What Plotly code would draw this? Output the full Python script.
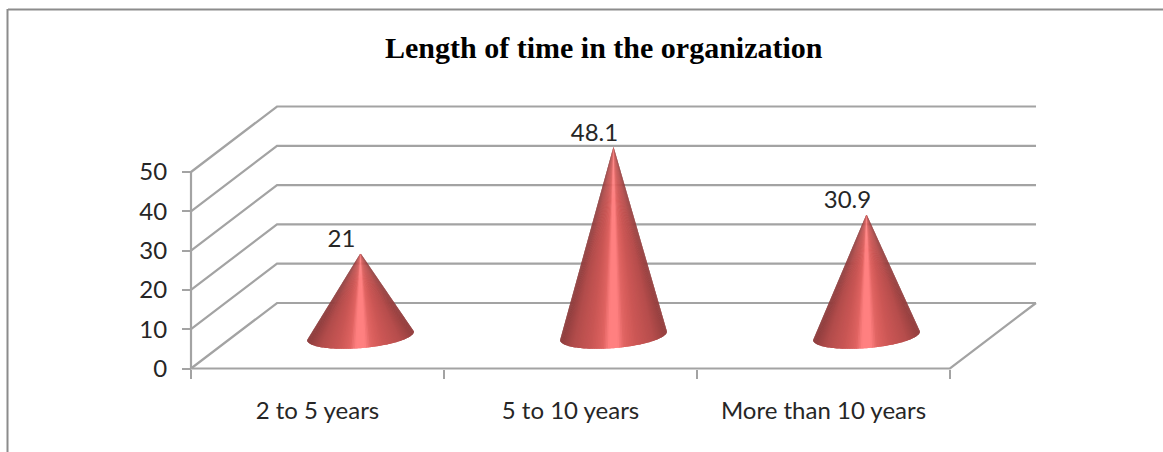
import numpy as np
import plotly.graph_objects as go

# Chart content
title = "Length of time in the organization"
categories = ["2 to 5 years", "5 to 10 years", "More than 10 years"]
values = [21, 48.1, 30.9]
value_labels = ["21", "48.1", "30.9"]
y_ticks = [0, 10, 20, 30, 40, 50]

# Figure and plot geometry (pixels)
W, H = 1163, 452
X0_PX, Y0_PX = 191.0, 368.5
CAT_PX, VAL_PX = 253.0, 3.93
DEPTH_X_PX, DEPTH_Y_PX = 86.0, 65.5

# Oblique depth expressed in axis units
DX = DEPTH_X_PX / CAT_PX
DY = DEPTH_Y_PX / VAL_PX
CONE_R = 0.2
GRID = "#a3a3a3"
TEXT = "#262626"
FONT = "Lato"


def project(cat, val, depth):
    """Oblique projection of (category, value, depth) onto the x/y axes."""
    return cat + depth * DX, val + depth * DY


# Colour stops across the visible cone surface, left edge to right edge
SHADE_U = [-1.0, -0.75, -0.4, -0.2, -0.08, 0.08, 0.2, 0.4, 0.75, 1.0]
SHADE_RGB = [
    (140, 60, 60), (178, 76, 75), (203, 87, 85), (222, 98, 96), (255, 128, 128),
    (255, 128, 128), (224, 100, 98), (206, 88, 86), (182, 77, 76), (146, 62, 62),
]


def shade(u):
    r, g, b = (np.interp(u, SHADE_U, [c[k] for c in SHADE_RGB]) for k in range(3))
    return f"rgb({r:.0f},{g:.0f},{b:.0f})"


def line_trace(xs, ys):
    return go.Scatter(x=xs, y=ys, mode="lines", hoverinfo="skip",
                      line=dict(color=GRID, width=2.2), showlegend=False)


fig = go.Figure()

# Side wall and back wall gridlines
for v in y_ticks:
    a = project(0, v, 0)
    b = project(0, v, 1)
    c = project(3, v, 1)
    fig.add_trace(line_trace([a[0], b[0], c[0]], [a[1], b[1], c[1]]))

# Front floor edge, right floor edge and the value axis line
a, b, c = project(0, 0, 0), project(3, 0, 0), project(3, 0, 1)
fig.add_trace(line_trace([a[0], b[0], c[0]], [a[1], b[1], c[1]]))
top = project(0, max(y_ticks), 0)
fig.add_trace(line_trace([a[0], top[0]], [a[1], top[1]]))

# Cones: overlapping facets fan out from the apex to the front of the base,
# each one painted over the previous so no seams show through
SILHOUETTE = np.arctan2(CONE_R * DEPTH_X_PX, CONE_R * CAT_PX)
thetas = np.linspace(np.pi + SILHOUETTE, 2 * np.pi + SILHOUETTE, 91)
for i, v in enumerate(values):
    cx = i + 0.5
    apex = project(cx, v, 0.5)
    bx, by = project(cx + CONE_R * np.cos(thetas), 0, 0.5 + CONE_R * np.sin(thetas))
    center_x = project(cx, 0, 0.5)[0]
    half = np.max(np.abs(bx - center_x))
    for k in range(len(thetas) - 1):
        end = min(k + 3, len(thetas))
        u = (bx[k] + bx[k + 1]) / 2 - center_x
        col = shade(u / half)
        fig.add_trace(go.Scatter(
            x=[apex[0], *bx[k:end], apex[0]],
            y=[apex[1], *by[k:end], apex[1]],
            mode="none", fill="toself", fillcolor=col,
            hoverinfo="skip", showlegend=False,
        ))

# Value labels sit just above and to the left of each apex
LABEL_DX = -19 / CAT_PX
LABEL_DY = 12 / VAL_PX
label_pos = [project(i + 0.5, v, 0.5) for i, v in enumerate(values)]
fig.add_trace(go.Scatter(
    x=[p[0] + LABEL_DX for p in label_pos],
    y=[p[1] + LABEL_DY for p in label_pos],
    mode="text", text=value_labels, textposition="middle center",
    textfont=dict(family=FONT, size=24, color=TEXT),
    hoverinfo="skip", showlegend=False,
))

axis_x_range = [-X0_PX / CAT_PX, (W - X0_PX) / CAT_PX]
axis_y_range = [(Y0_PX - H) / VAL_PX, Y0_PX / VAL_PX]

fig.update_layout(
    width=W, height=H,
    margin=dict(l=0, r=0, t=0, b=0),
    paper_bgcolor="white", plot_bgcolor="white",
    showlegend=False,
    xaxis=dict(
        range=axis_x_range, domain=[0, 1], anchor="free",
        position=(H - Y0_PX) / H,
        showgrid=False, zeroline=False, showline=False,
        tickmode="array", tickvals=[i + 0.5 for i in range(len(categories))],
        ticktext=categories, ticks="", ticklen=0, ticklabelstandoff=25,
        tickfont=dict(family=FONT, size=24, color=TEXT),
        minor=dict(tickmode="array", tickvals=list(range(len(categories) + 1)),
                   ticks="outside", ticklen=9, tickwidth=2, tickcolor=GRID),
    ),
    yaxis=dict(
        range=axis_y_range, domain=[0, 1], anchor="free",
        position=X0_PX / W,
        showgrid=False, zeroline=False, showline=False,
        tickmode="array", tickvals=y_ticks, ticks="outside",
        ticklen=9, tickwidth=2, tickcolor=GRID, ticklabelstandoff=10,
        tickfont=dict(family=FONT, size=24, color=TEXT),
    ),
    # Outer chart frame: only the top and left edges fall inside the page
    shapes=[
        dict(type="line", xref="paper", yref="paper",
             x0=8 / W, x1=1, y0=1 - 9.5 / H, y1=1 - 9.5 / H,
             line=dict(color="#8c8c8c", width=2)),
        dict(type="line", xref="paper", yref="paper",
             x0=7.5 / W, x1=7.5 / W, y0=0, y1=1 - 9 / H,
             line=dict(color="#8c8c8c", width=2)),
    ],
    annotations=[
        dict(text=f"<b>{title}</b>", xref="paper", yref="paper",
             x=604 / W, y=1 - 48 / H, xanchor="center", yanchor="middle",
             showarrow=False,
             font=dict(family="Liberation Serif", size=30, color="black")),
    ],
)

fig.write_html("out.html")
